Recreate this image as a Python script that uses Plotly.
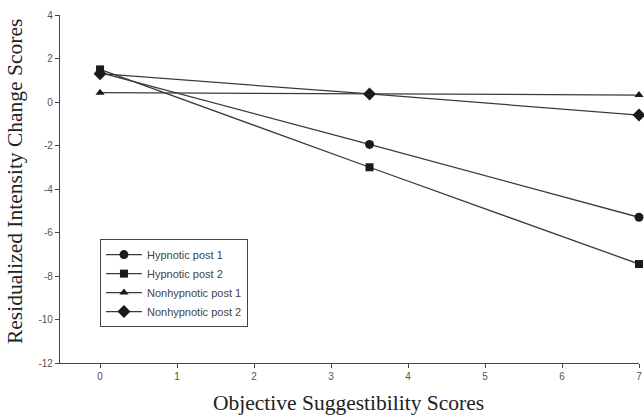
import plotly.graph_objects as go

x_vals = [0, 3.5, 7]
hyp_post1 = [1.35, -1.95, -5.3]
hyp_post2 = [1.5, -3.0, -7.45]
nonhyp_post1 = [0.43, 0.37, 0.32]
nonhyp_post2 = [1.3, 0.37, -0.6]

series_names = ["Hypnotic post 1", "Hypnotic post 2", "Nonhypnotic post 1", "Nonhypnotic post 2"]
series_values = [hyp_post1, hyp_post2, nonhyp_post1, nonhyp_post2]
symbols = ["circle", "square", "triangle-up", "diamond"]
sizes = [9, 8, 8, 10]

x_ticks = [0, 1, 2, 3, 4, 5, 6, 7]
x_ticklabels = ["0", "1", "2", "3", "4", "5", "6", "7"]
y_ticks = [4, 2, 0, -2, -4, -6, -8, -10, -12]
y_ticklabels = ["4", "2", "0", "-2", "-4", "-6", "-8", "-10", "-12"]

x_title = "Objective Suggestibility Scores"
y_title = "Residualized Intensity Change Scores"

fig = go.Figure()
for name, vals, sym, sz in zip(series_names, series_values, symbols, sizes):
    fig.add_trace(go.Scatter(
        x=x_vals, y=vals, name=name, mode="lines+markers",
        line=dict(color="#3a3a3a", width=1.3),
        marker=dict(symbol=sym, size=sz, color="#1a1a1a"),
        cliponaxis=False,
    ))

title_font = dict(family="Liberation Serif, Times New Roman", size=21.5, color="#222")

fig.update_layout(
    width=644, height=418,
    margin=dict(l=60, r=5, t=15, b=55, autoexpand=False),
    paper_bgcolor="white", plot_bgcolor="white",
    showlegend=True,
    legend=dict(
        x=0.069, y=0.356, xanchor="left", yanchor="top",
        bordercolor="#444", borderwidth=1,
        font=dict(family="Liberation Sans, Arial", size=11, color="#444"),
        bgcolor="white", tracegroupgap=0, itemwidth=36,
    ),
    font=dict(family="Liberation Sans, Arial", size=10, color="#555"),
    annotations=[
        dict(text=y_title, xref="paper", yref="paper", x=-0.0777, y=0.52,
             xanchor="center", yanchor="middle", textangle=-90,
             showarrow=False, font=title_font),
        dict(text=x_title, xref="paper", yref="paper", x=0.498, y=-0.115,
             xanchor="center", yanchor="middle",
             showarrow=False, font=title_font),
    ],
)
fig.update_xaxes(
    range=[-0.52, 7], tickvals=x_ticks, ticktext=x_ticklabels,
    showline=True, linecolor="#444", linewidth=1.3,
    ticks="outside", ticklen=4, tickcolor="#444",
    showgrid=False, zeroline=False, automargin=False,
    ticklabeloverflow="allow",
    tickfont=dict(family="Liberation Sans, Arial", size=10, color="#555"),
)
fig.update_yaxes(
    range=[-12, 4], tickvals=y_ticks, ticktext=y_ticklabels,
    showline=True, linecolor="#444", linewidth=1.3,
    ticks="outside", ticklen=4, tickcolor="#444",
    showgrid=False, zeroline=False, automargin=False,
    ticklabeloverflow="allow",
    tickfont=dict(family="Liberation Sans, Arial", size=10, color="#555"),
)

fig.write_html("out.html", config={"displayModeBar": False},
               post_script="document.body.style.margin='0px';")
